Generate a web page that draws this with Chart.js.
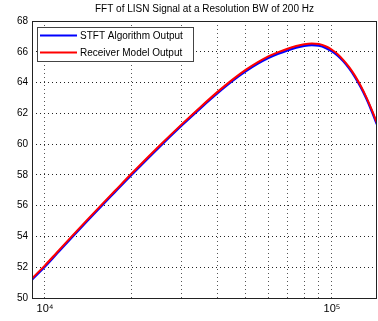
<!DOCTYPE html>
<html>
<head>
<meta charset="utf-8">
<script src="https://cdn.jsdelivr.net/npm/chart.js@4"></script>
<style>
  html, body { margin: 0; padding: 0; background: #fff; }
  #wrap { width: 378px; height: 321px; }
</style>
</head>
<body>
<div id="wrap"><canvas id="chart"></canvas></div>
<script>
'use strict'

// FFT of LISN signal - two outputs compared on a log frequency axis

// Data
let freqs = [9010, 10000, 11000, 12300, 14000, 15760, 17500, 20000, 25000, 30000, 35000, 40000, 45000, 50000, 55000, 60000, 65000, 70000, 75000, 80000, 85000, 90000, 95000, 100000, 104700, 109600, 114800, 120200, 125900, 131800, 138000, 143500];
let stftValues = [51.2, 52.05, 52.89, 53.87, 54.99, 56.0, 56.88, 58.0, 59.81, 61.23, 62.38, 63.33, 64.11, 64.73, 65.22, 65.6, 65.88, 66.1, 66.27, 66.39, 66.44, 66.4, 66.26, 66.03, 65.75, 65.38, 64.92, 64.37, 63.71, 62.96, 62.09, 61.28];
let receiverValues = [51.27, 52.12, 52.96, 53.94, 55.06, 56.07, 56.95, 58.07, 59.88, 61.3, 62.45, 63.41, 64.19, 64.82, 65.31, 65.7, 65.98, 66.2, 66.37, 66.49, 66.54, 66.5, 66.36, 66.13, 65.84, 65.46, 65.0, 64.45, 63.79, 63.04, 62.17, 61.36];
let seriesNames = ['STFT Algorithm Output', 'Receiver Model Output'];
let xTickValues = [10000, 20000, 30000, 40000, 50000, 60000, 70000, 80000, 90000, 100000];
let xTickLabels = ['10\u2074', '', '', '', '', '', '', '', '', '10\u2075'];
let yTicks = [50, 52, 54, 56, 58, 60, 62, 64, 66, 68];

let fontFamily = '"Liberation Sans", Arial, sans-serif';

function toPoints(values) {
    let pts = [];
    for (let i = 0; i < freqs.length; i++) {
        pts.push({ x: freqs[i], y: values[i] });
    }
    return pts;
}

// box round the plot + legend inside the axes, matlab style
const axesBox = {
    id: 'axesBox',
    afterDatasetsDraw(chart) {
        const ctx = chart.ctx;
        const a = chart.chartArea;
        ctx.save();
        ctx.strokeStyle = '#222';
        ctx.lineWidth = 1;
        ctx.strokeRect(Math.round(a.left) + 0.5, Math.round(a.top) + 0.5, Math.round(a.right - a.left) - 1, Math.round(a.bottom - a.top));

        // legend
        let lx = a.left + 5, ly = a.top + 6, lw = 156, lh = 34;
        ctx.fillStyle = '#fff';
        ctx.fillRect(lx, ly, lw, lh);
        ctx.strokeStyle = '#444';
        ctx.strokeRect(lx + 0.5, ly + 0.5, lw, lh);
        ctx.font = '10px ' + fontFamily;
        ctx.textBaseline = 'middle';
        ctx.fillStyle = '#000';
        chart.data.datasets.forEach(function (ds, i) {
            let y = ly + 8.5 + i * 17;
            ctx.strokeStyle = ds.borderColor;
            ctx.lineWidth = 2;
            ctx.beginPath();
            ctx.moveTo(lx + 3, y);
            ctx.lineTo(lx + 40, y);
            ctx.stroke();
            ctx.fillText(ds.label, lx + 43, y + 0.5);
        });
        ctx.restore();
    }
};

const config = {
    type: 'line',
    data: {
        datasets: [{
            label: seriesNames[0],
            data: toPoints(stftValues),
            borderColor: '#0000ff',
            borderWidth: 2.4,
            pointRadius: 0,
            cubicInterpolationMode: 'monotone',
            order: 2
        }, {
            label: seriesNames[1],
            data: toPoints(receiverValues),
            borderColor: '#ff0000',
            borderWidth: 2,
            pointRadius: 0,
            cubicInterpolationMode: 'monotone',
            order: 1
        }]
    },
    options: {
        responsive: true,
        maintainAspectRatio: false,
        animation: false,
        layout: { padding: { right: 1, left: 0, top: 0, bottom: 0 } },
        plugins: {
            legend: { display: false },
            tooltip: { enabled: false },
            title: {
                display: true,
                text: 'FFT of LISN Signal at a Resolution BW of 200 Hz',
                fullSize: false,
                color: '#000',
                font: { family: fontFamily, size: 10, weight: 'normal', lineHeight: 1.2 },
                padding: { top: 3, bottom: 6 }
            }
        },
        scales: {
            x: {
                type: 'logarithmic',
                min: 9010,
                max: 143500,
                afterBuildTicks: function (scale) {
                    scale.ticks = xTickValues.map(v => ({ value: v }));
                },
                afterFit: function (scale) { scale.height = 23; },
                ticks: {
                    autoSkip: false,
                    maxRotation: 0,
                    padding: 4,
                    color: '#000',
                    font: { family: fontFamily, size: 11 },
                    callback: function (value) {
                        let i = xTickValues.indexOf(value);
                        return i >= 0 ? xTickLabels[i] : '';
                    }
                },
                grid: { color: '#555', drawTicks: false, lineWidth: 1 },
                border: { display: false, dash: [1, 3] }
            },
            y: {
                min: 50,
                max: 68,
                afterBuildTicks: function (scale) {
                    scale.ticks = yTicks.map(v => ({ value: v }));
                },
                afterFit: function (scale) { scale.width = 32; },
                ticks: {
                    padding: 4,
                    color: '#000',
                    font: { family: fontFamily, size: 10 }
                },
                grid: { color: '#222', drawTicks: false, lineWidth: 1 },
                border: { display: false, dash: [1, 3] }
            }
        }
    },
    plugins: [axesBox]
};

const myChart = new Chart(document.getElementById('chart'), config);
</script>
</body>
</html>
